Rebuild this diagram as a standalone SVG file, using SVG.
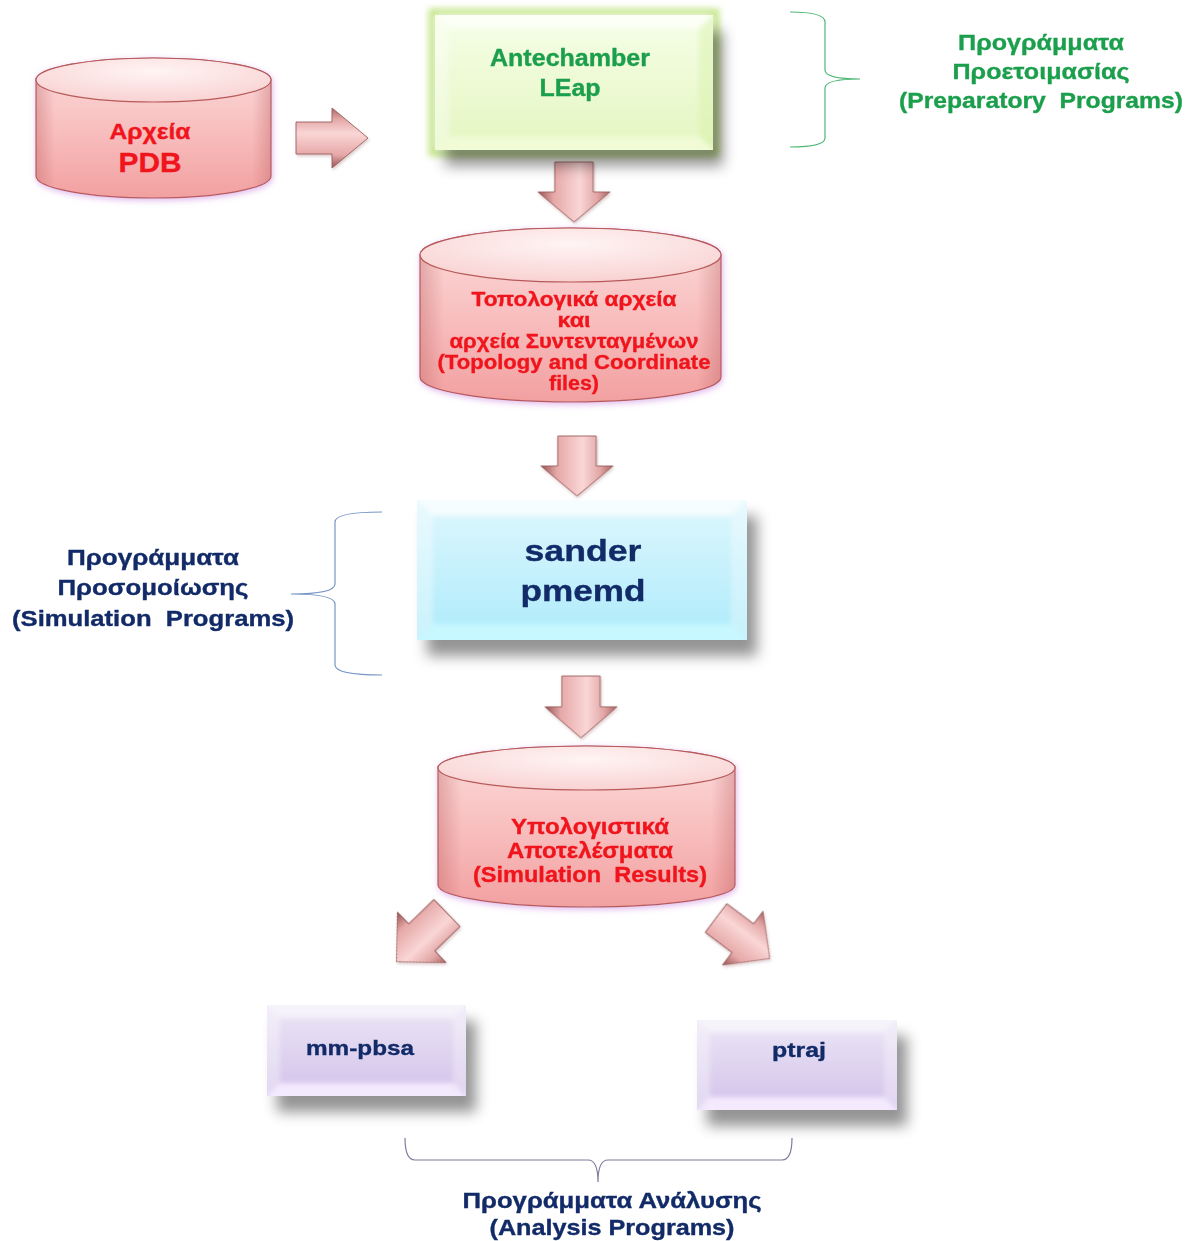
<svg xmlns="http://www.w3.org/2000/svg" width="1187" height="1241" viewBox="0 0 1187 1241">
  <style>
    .lbl { font-family: "Liberation Sans", Arial, sans-serif; font-weight: bold; text-anchor: middle; stroke-width: 0.35; white-space: pre; }
    .red { fill: #f0141c; stroke: #f0141c; }
    .grn { fill: #1c9f4c; stroke: #1c9f4c; }
    .navy { fill: #122b68; stroke: #122b68; }
    .cylEdge { stroke: #b75a5a; stroke-width: 1.2; }
    .brace { fill: none; stroke-width: 1.2; }
    .arrow { fill: url(#arrowFill); stroke: #9a5c5c; stroke-width: 0.8; }
    .bevel { filter: url(#soft); }
  </style>
  <defs>
    <!-- soft shadow cast to the lower right of the boxes -->
    <filter id="boxShadow" x="-20%" y="-20%" width="150%" height="160%">
      <feGaussianBlur in="SourceAlpha" stdDeviation="7"/>
      <feOffset dx="10" dy="16" result="b"/>
      <feFlood flood-color="#000" flood-opacity="0.42"/>
      <feComposite in2="b" operator="in" result="s"/>
      <feMerge><feMergeNode in="s"/><feMergeNode in="SourceGraphic"/></feMerge>
    </filter>
    <!-- faint violet halo round the cylinders -->
    <filter id="cylGlow" x="-10%" y="-15%" width="120%" height="130%">
      <feGaussianBlur in="SourceAlpha" stdDeviation="3"/>
      <feOffset dx="1" dy="2" result="b"/>
      <feFlood flood-color="#d9a6e6" flood-opacity="0.8"/>
      <feComposite in2="b" operator="in" result="s"/>
      <feMerge><feMergeNode in="s"/><feMergeNode in="SourceGraphic"/></feMerge>
    </filter>
    <filter id="greenGlow" x="-10%" y="-10%" width="120%" height="120%">
      <feGaussianBlur stdDeviation="3"/>
    </filter>
    <filter id="soft" x="-5%" y="-5%" width="110%" height="110%">
      <feGaussianBlur stdDeviation="2.5"/>
    </filter>
    <filter id="arrowShadow" x="-20%" y="-20%" width="140%" height="140%">
      <feGaussianBlur in="SourceAlpha" stdDeviation="1.5"/>
      <feOffset dx="1" dy="2" result="b"/>
      <feFlood flood-color="#a07070" flood-opacity="0.35"/>
      <feComposite in2="b" operator="in" result="s"/>
      <feMerge><feMergeNode in="s"/><feMergeNode in="SourceGraphic"/></feMerge>
    </filter>

    <clipPath id="clipAnte"><rect x="435" y="15" width="278" height="135"/></clipPath>
    <clipPath id="clipSander"><rect x="417" y="500" width="330" height="140"/></clipPath>
    <clipPath id="clipPbsa"><rect x="267" y="1005" width="199" height="91"/></clipPath>
    <clipPath id="clipPtraj"><rect x="697" y="1020" width="200" height="90"/></clipPath>

    <linearGradient id="cylBody" x1="0" y1="0" x2="0" y2="1">
      <stop offset="0" stop-color="#fcdcdc"/>
      <stop offset="0.55" stop-color="#f8bcbc"/>
      <stop offset="1" stop-color="#f2a0a0"/>
    </linearGradient>
    <linearGradient id="cylSides" x1="0" y1="0" x2="1" y2="0">
      <stop offset="0" stop-color="#b85a5a" stop-opacity="0.35"/>
      <stop offset="0.08" stop-color="#b85a5a" stop-opacity="0"/>
      <stop offset="0.92" stop-color="#b85a5a" stop-opacity="0"/>
      <stop offset="1" stop-color="#b85a5a" stop-opacity="0.35"/>
    </linearGradient>
    <radialGradient id="cylTop" cx="0.5" cy="0.3" r="0.7">
      <stop offset="0" stop-color="#fff4f4"/>
      <stop offset="1" stop-color="#f9d2d2"/>
    </radialGradient>

    <linearGradient id="greenFill" x1="0" y1="0" x2="0" y2="1">
      <stop offset="0" stop-color="#f6fee8"/>
      <stop offset="1" stop-color="#e4f6c0"/>
    </linearGradient>
    <linearGradient id="cyanFill" x1="0" y1="0" x2="0" y2="1">
      <stop offset="0" stop-color="#def7fd"/>
      <stop offset="1" stop-color="#aeebfb"/>
    </linearGradient>
    <linearGradient id="lilacFill" x1="0" y1="0" x2="0" y2="1">
      <stop offset="0" stop-color="#ece6f6"/>
      <stop offset="1" stop-color="#d2c2ea"/>
    </linearGradient>

    <linearGradient id="arrowFill" x1="0" y1="0" x2="0" y2="1">
      <stop offset="0" stop-color="#a86464"/>
      <stop offset="0.18" stop-color="#e2a6a6"/>
      <stop offset="0.42" stop-color="#fad6d6"/>
      <stop offset="0.78" stop-color="#e6a8a8"/>
      <stop offset="1" stop-color="#965454"/>
    </linearGradient>

    <!-- block arrow pointing along +x, tail at the origin -->
    <path id="blockArrow" class="arrow" d="M0,-16 H30 V-30 L60,0 L30,30 V16 H0 Z"/>
  </defs>

  <rect width="1187" height="1241" fill="#ffffff"/>

  <!-- connectors: block arrows -->
  <g id="connectors" filter="url(#arrowShadow)">
    <use href="#blockArrow" transform="translate(296,138) scale(1.2,1)"/>
    <use href="#blockArrow" transform="translate(574,162) rotate(90) scale(1,1.2)"/>
    <use href="#blockArrow" transform="translate(577,436) rotate(90) scale(1,1.2)"/>
    <use href="#blockArrow" transform="translate(581,676) rotate(90) scale(1.03,1.2)"/>
    <use href="#blockArrow" transform="translate(447,913) rotate(136) scale(1.17)"/>
    <use href="#blockArrow" transform="translate(716,918) rotate(37) scale(1.12)"/>
  </g>

  <!-- PDB files -->
  <g id="pdb-files">
    <g filter="url(#cylGlow)">
      <path d="M36,80 A117.5,22 0 0 1 271,80 V176 A117.5,22 0 0 1 36,176 Z" fill="url(#cylBody)" class="cylEdge"/>
      <path d="M36,80 A117.5,22 0 0 1 271,80 V176 A117.5,22 0 0 1 36,176 Z" fill="url(#cylSides)"/>
      <ellipse cx="153.5" cy="80" rx="117.5" ry="22" fill="url(#cylTop)" class="cylEdge"/>
    </g>
    <text class="lbl red" x="150" y="139" font-size="22" textLength="81" lengthAdjust="spacingAndGlyphs">Αρχεία</text>
    <text class="lbl red" x="150" y="172" font-size="28" textLength="63" lengthAdjust="spacingAndGlyphs">PDB</text>
  </g>

  <!-- Antechamber / LEap -->
  <g id="antechamber">
    <rect x="432" y="12" width="284" height="141" fill="none" stroke="#c6e68c" stroke-width="7" filter="url(#greenGlow)"/>
    <g filter="url(#boxShadow)">
      <rect x="435" y="15" width="278" height="135" fill="url(#greenFill)"/>
    </g>
    <g clip-path="url(#clipAnte)">
      <g class="bevel">
        <polygon points="430,10 718,10 699,29 449,29" fill="#ffffff" opacity="0.6"/>
        <polygon points="430,155 718,155 699,136 449,136" fill="#f2fcd8" opacity="0.9"/>
        <polygon points="430,10 449,29 449,136 430,155" fill="#ffffff" opacity="0.35"/>
        <polygon points="718,10 699,29 699,136 718,155" fill="#d8f0a8" opacity="0.45"/>
      </g>
    </g>
    <text class="lbl grn" x="570" y="66" font-size="23" textLength="160" lengthAdjust="spacingAndGlyphs">Antechamber</text>
    <text class="lbl grn" x="570" y="96" font-size="23" textLength="61" lengthAdjust="spacingAndGlyphs">LEap</text>
  </g>

  <!-- Preparatory programs brace -->
  <g id="preparatory-label">
    <path class="brace" stroke="#4cb874" d="M790,12 Q825,12 825,22 V70 Q825,79 860,79 Q825,79 825,88 V138 Q825,147 790,147"/>
    <text class="lbl grn" x="1041" y="50" font-size="22" textLength="166" lengthAdjust="spacingAndGlyphs">Προγράμματα</text>
    <text class="lbl grn" x="1041" y="79" font-size="22" textLength="177" lengthAdjust="spacingAndGlyphs">Προετοιμασίας</text>
    <text class="lbl grn" x="1041" y="108" font-size="22" textLength="284" lengthAdjust="spacingAndGlyphs">(Preparatory  Programs)</text>
  </g>

  <!-- Topology and coordinate files -->
  <g id="topology-files">
    <g filter="url(#cylGlow)">
      <path d="M420,255 A150.5,27 0 0 1 721,255 V377 A150.5,25 0 0 1 420,377 Z" fill="url(#cylBody)" class="cylEdge"/>
      <path d="M420,255 A150.5,27 0 0 1 721,255 V377 A150.5,25 0 0 1 420,377 Z" fill="url(#cylSides)"/>
      <ellipse cx="570.5" cy="255" rx="150.5" ry="27" fill="url(#cylTop)" class="cylEdge"/>
    </g>
    <text class="lbl red" x="574" y="306" font-size="20" textLength="205" lengthAdjust="spacingAndGlyphs">Τοπολογικά αρχεία</text>
    <text class="lbl red" x="574" y="327" font-size="20" textLength="33" lengthAdjust="spacingAndGlyphs">και</text>
    <text class="lbl red" x="574" y="348" font-size="20" textLength="249" lengthAdjust="spacingAndGlyphs">αρχεία Συντενταγμένων</text>
    <text class="lbl red" x="574" y="369" font-size="20" textLength="273" lengthAdjust="spacingAndGlyphs">(Topology and Coordinate</text>
    <text class="lbl red" x="574" y="390" font-size="20" textLength="50" lengthAdjust="spacingAndGlyphs">files)</text>
  </g>

  <!-- sander / pmemd -->
  <g id="sander-pmemd">
    <g filter="url(#boxShadow)">
      <rect x="417" y="500" width="330" height="140" fill="url(#cyanFill)"/>
    </g>
    <g clip-path="url(#clipSander)">
      <g class="bevel">
        <polygon points="412,495 752,495 731,516 433,516" fill="#ffffff" opacity="0.7"/>
        <polygon points="412,645 752,645 731,624 433,624" fill="#c8f8ff" opacity="0.95"/>
        <polygon points="412,495 433,516 433,624 412,645" fill="#ffffff" opacity="0.35"/>
        <polygon points="752,495 731,516 731,624 752,645" fill="#ffffff" opacity="0.3"/>
      </g>
    </g>
    <text class="lbl navy" x="583" y="561" font-size="30" textLength="117" lengthAdjust="spacingAndGlyphs">sander</text>
    <text class="lbl navy" x="583" y="601" font-size="30" textLength="125" lengthAdjust="spacingAndGlyphs">pmemd</text>
  </g>

  <!-- Simulation programs brace -->
  <g id="simulation-label">
    <path class="brace" stroke="#7896c8" d="M382,512 Q335,512 335,522 V584 Q335,594 291,594 Q335,594 335,604 V665 Q335,675 382,675"/>
    <text class="lbl navy" x="153" y="565" font-size="22" textLength="172" lengthAdjust="spacingAndGlyphs">Προγράμματα</text>
    <text class="lbl navy" x="153" y="595" font-size="22" textLength="191" lengthAdjust="spacingAndGlyphs">Προσομοίωσης</text>
    <text class="lbl navy" x="153" y="626" font-size="22" textLength="282" lengthAdjust="spacingAndGlyphs">(Simulation  Programs)</text>
  </g>

  <!-- Simulation results -->
  <g id="simulation-results">
    <g filter="url(#cylGlow)">
      <path d="M438,768 A148.5,22 0 0 1 735,768 V885 A148.5,22 0 0 1 438,885 Z" fill="url(#cylBody)" class="cylEdge"/>
      <path d="M438,768 A148.5,22 0 0 1 735,768 V885 A148.5,22 0 0 1 438,885 Z" fill="url(#cylSides)"/>
      <ellipse cx="586.5" cy="768" rx="148.5" ry="22" fill="url(#cylTop)" class="cylEdge"/>
    </g>
    <text class="lbl red" x="590" y="834" font-size="22" textLength="158" lengthAdjust="spacingAndGlyphs">Υπολογιστικά</text>
    <text class="lbl red" x="590" y="858" font-size="22" textLength="166" lengthAdjust="spacingAndGlyphs">Αποτελέσματα</text>
    <text class="lbl red" x="590" y="882" font-size="22" textLength="234" lengthAdjust="spacingAndGlyphs">(Simulation  Results)</text>
  </g>

  <!-- mm-pbsa -->
  <g id="mm-pbsa">
    <g filter="url(#boxShadow)">
      <rect x="267" y="1005" width="199" height="91" fill="url(#lilacFill)"/>
    </g>
    <g clip-path="url(#clipPbsa)">
      <g class="bevel">
        <polygon points="262,1000 471,1000 453,1018 280,1018" fill="#ffffff" opacity="0.55"/>
        <polygon points="262,1101 471,1101 453,1083 280,1083" fill="#f4ecff" opacity="0.95"/>
        <polygon points="262,1000 280,1018 280,1083 262,1101" fill="#ffffff" opacity="0.35"/>
        <polygon points="471,1000 453,1018 453,1083 471,1101" fill="#ffffff" opacity="0.3"/>
      </g>
    </g>
    <text class="lbl navy" x="360" y="1055" font-size="21" textLength="108" lengthAdjust="spacingAndGlyphs">mm-pbsa</text>
  </g>

  <!-- ptraj -->
  <g id="ptraj">
    <g filter="url(#boxShadow)">
      <rect x="697" y="1020" width="200" height="90" fill="url(#lilacFill)"/>
    </g>
    <g clip-path="url(#clipPtraj)">
      <g class="bevel">
        <polygon points="692,1015 902,1015 884,1033 710,1033" fill="#ffffff" opacity="0.55"/>
        <polygon points="692,1115 902,1115 884,1097 710,1097" fill="#f4ecff" opacity="0.95"/>
        <polygon points="692,1015 710,1033 710,1097 692,1115" fill="#ffffff" opacity="0.35"/>
        <polygon points="902,1015 884,1033 884,1097 902,1115" fill="#ffffff" opacity="0.3"/>
      </g>
    </g>
    <text class="lbl navy" x="799" y="1057" font-size="21" textLength="54" lengthAdjust="spacingAndGlyphs">ptraj</text>
  </g>

  <!-- Analysis programs brace -->
  <g id="analysis-label">
    <path class="brace" stroke="#7c7c9c" d="M405,1138 Q405,1160 415,1160 H588 Q598,1160 598,1182 Q598,1160 608,1160 H782 Q792,1160 792,1138"/>
    <text class="lbl navy" x="612" y="1208" font-size="22" textLength="299" lengthAdjust="spacingAndGlyphs">Προγράμματα Ανάλυσης</text>
    <text class="lbl navy" x="612" y="1235" font-size="22" textLength="245" lengthAdjust="spacingAndGlyphs">(Analysis Programs)</text>
  </g>
</svg>
